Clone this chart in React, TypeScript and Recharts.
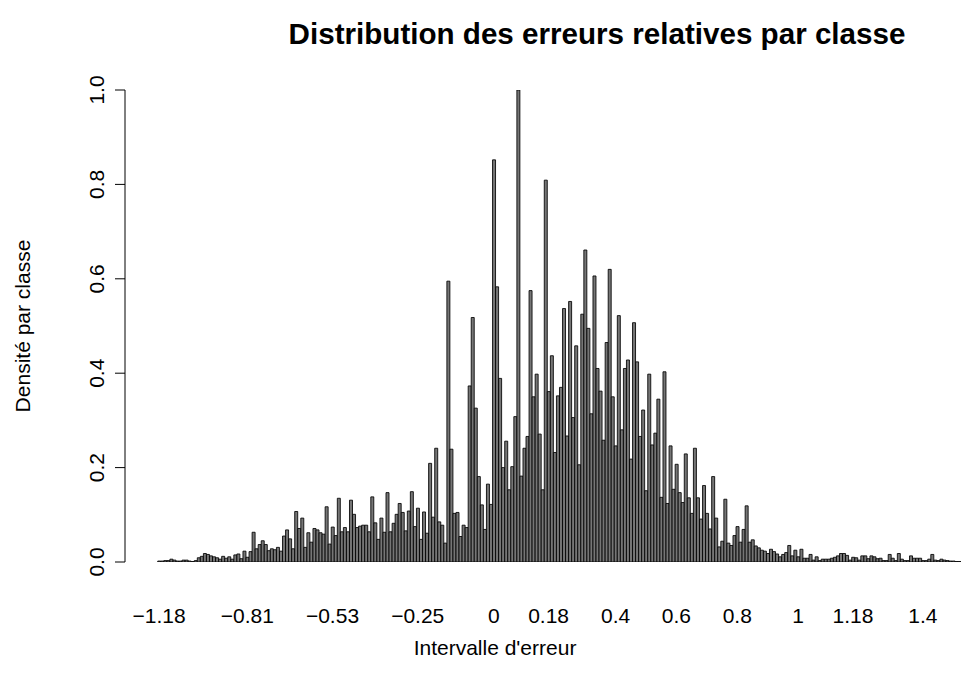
import React from 'react';
import { BarChart, Bar, XAxis, YAxis } from 'recharts';

const FONT = '"Liberation Sans", Arial, Helvetica, sans-serif';

// Relative-error class densities, read bar by bar from left to right
const LEFT_TAIL = [
  0.002, 0.002, 0.003, 0.003, 0.006, 0.004, 0.002, 0.002, 0.004, 0.004, 0.002,
  0.001, 0.003, 0.009, 0.012, 0.018, 0.016, 0.013, 0.011, 0.009, 0.006, 0.012,
  0.008, 0.011, 0.006, 0.015, 0.017, 0.007, 0.023, 0.01, 0.022, 0.063, 0.028,
  0.037, 0.045, 0.037, 0.024, 0.028, 0.026, 0.031, 0.023, 0.055, 0.068, 0.049,
  0.028, 0.107,
];
const LEFT_SHOULDER = [
  0.071, 0.093, 0.031, 0.062, 0.042, 0.071, 0.068, 0.062, 0.059, 0.117, 0.038,
  0.074, 0.056, 0.135, 0.064, 0.073, 0.064, 0.131, 0.101, 0.073, 0.076, 0.078,
  0.078, 0.064, 0.138, 0.083, 0.048, 0.093, 0.063, 0.147, 0.064, 0.082, 0.101,
  0.124, 0.105, 0.066, 0.108, 0.149, 0.075, 0.114, 0.048, 0.106, 0.061, 0.209,
  0.095, 0.241,
];
const CORE_LEFT = [
  0.085, 0.078, 0.04, 0.595, 0.239, 0.103, 0.105, 0.054, 0.078, 0.073, 0.373,
  0.518, 0.326, 0.181, 0.121, 0.069, 0.165, 0.122, 0.852, 0.583, 0.389, 0.2,
  0.256, 0.153, 0.202, 0.308, 1.0, 0.182, 0.241, 0.266, 0.575, 0.35, 0.398,
  0.271, 0.153, 0.809, 0.361, 0.437, 0.232, 0.352, 0.37, 0.537, 0.267, 0.552,
  0.306, 0.458,
];
const CORE_RIGHT = [
  0.206, 0.525, 0.661, 0.495, 0.314, 0.606, 0.41, 0.362, 0.258, 0.465, 0.62,
  0.35, 0.246, 0.522, 0.28, 0.41, 0.428, 0.218, 0.507, 0.424, 0.266, 0.322,
  0.151, 0.398, 0.248, 0.273, 0.345, 0.137, 0.403, 0.124, 0.246, 0.154, 0.207,
  0.147, 0.126, 0.229, 0.136, 0.103, 0.241, 0.136, 0.091, 0.162, 0.103, 0.07,
  0.181,
];
const RIGHT_TAIL = [
  0.093, 0.032, 0.044, 0.133, 0.04, 0.035, 0.056, 0.075, 0.042, 0.069, 0.119,
  0.042, 0.047, 0.034, 0.03, 0.025, 0.023, 0.018, 0.027, 0.022, 0.017, 0.011,
  0.016, 0.02, 0.035, 0.013, 0.025, 0.011, 0.027, 0.008, 0.008, 0.016, 0.004,
  0.011, 0.003, 0.006, 0.006, 0.006, 0.008, 0.01, 0.013, 0.018, 0.018, 0.014,
  0.004, 0.01, 0.009, 0.004, 0.013, 0.013, 0.007, 0.013, 0.011, 0.007, 0.008,
  0.003, 0.003, 0.016, 0.008, 0.003, 0.018, 0.006, 0.003, 0.003, 0.013, 0.008,
  0.008, 0.008, 0.003, 0.003, 0.006, 0.016, 0.004, 0.003, 0.006, 0.004, 0.003,
  0.002, 0.002, 0.001, 0.001,
];

const DENSITY = [...LEFT_TAIL, ...LEFT_SHOULDER, ...CORE_LEFT, ...CORE_RIGHT, ...RIGHT_TAIL];

// Which class (bar index) carries each x-axis label
const TICK_INDEX = [0, 29, 57, 85, 110, 128, 150, 170, 190, 210, 228, 251];
const TICK_LABELS = ['\u22121.18', '\u22120.81', '\u22120.53', '\u22120.25', '0', '0.18', '0.4', '0.6', '0.8', '1', '1.18', '1.4'];

const Y_TICKS = [0, 0.2, 0.4, 0.6, 0.8, 1.0];

const data = DENSITY.map((d, i) => ({ bin: i, density: d }));
const labelByIndex = new Map<number, string>(TICK_INDEX.map((b, k) => [b, TICK_LABELS[k]]));

function XTick(props: any) {
  const { x, y, payload } = props;
  const label = labelByIndex.get(payload.value);
  if (label === undefined) return <g />;
  return (
    <text x={x} y={y + 61} textAnchor="middle" fontSize={21} fontFamily={FONT} fill="#000">
      {label}
    </text>
  );
}

function YTick(props: any) {
  const { x, y, payload } = props;
  const bx = x - 9;
  return (
    <text
      x={bx}
      y={y}
      transform={`rotate(-90 ${bx} ${y})`}
      textAnchor="middle"
      fontSize={21}
      fontFamily={FONT}
      fill="#000"
    >
      {Number(payload.value).toFixed(1)}
    </text>
  );
}

export default function App() {
  return (
    <div style={{ position: 'absolute', left: 0, top: 0, width: 961, height: 688, background: '#fff', overflow: 'hidden' }}>
      <BarChart
        width={961}
        height={688}
        data={data}
        margin={{ top: 90, right: 0, bottom: 66, left: 65 }}
        barCategoryGap="8%"
      >
        <XAxis
          dataKey="bin"
          type="category"
          interval={0}
          height={60}
          axisLine={false}
          tickLine={false}
          tickSize={0}
          tickMargin={0}
          padding={{ left: 32.5, right: 0 }}
          tick={XTick}
        />
        <YAxis
          type="number"
          domain={[0, 1]}
          ticks={Y_TICKS}
          width={60}
          tickSize={10}
          tickMargin={2}
          axisLine={{ stroke: '#000', strokeWidth: 1 }}
          tickLine={{ stroke: '#000', strokeWidth: 1 }}
          tick={YTick}
          allowDataOverflow
        />
        <Bar
          dataKey="density"
          fill="#767676"
          stroke="#000"
          strokeWidth={0.85}
          isAnimationActive={false}
        />
      </BarChart>
      <svg
        width={961}
        height={688}
        style={{ position: 'absolute', left: 0, top: 0, pointerEvents: 'none' }}
      >
        <text x={597} y={44} textAnchor="middle" fontSize={29.6} fontWeight="bold" fontFamily={FONT} fill="#000">
          Distribution des erreurs relatives par classe
        </text>
        <text x={495} y={655} textAnchor="middle" fontSize={21} fontFamily={FONT} fill="#000">
          Intervalle d'erreur
        </text>
        <text
          x={30}
          y={326}
          transform="rotate(-90 30 326)"
          textAnchor="middle"
          fontSize={21}
          fontFamily={FONT}
          fill="#000"
        >
          Densité par classe
        </text>
      </svg>
    </div>
  );
}
